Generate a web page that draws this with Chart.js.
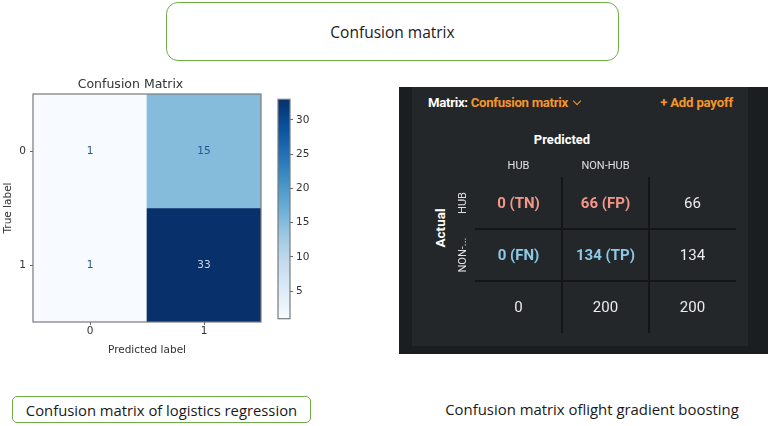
<!DOCTYPE html>
<html>
<head>
<meta charset="utf-8">
<script src="https://cdn.jsdelivr.net/npm/chart.js@4.4.1/dist/chart.umd.min.js"></script>
<style>
  html, body { margin: 0; padding: 0; background: #fff; }
  body { width: 770px; height: 426px; position: relative; overflow: hidden; font-family: "Open Sans", sans-serif; }
  .abs { position: absolute; }
  #topBox {
    left: 166px; top: 2px; width: 451px; height: 57px;
    border: 1.5px solid #70ad47; border-radius: 12px;
    display: flex; align-items: center; justify-content: center;
    font-size: 15.5px; color: #1a1a1a;
  }
  #capLeft {
    left: 12px; top: 396px; width: 297px; height: 25px;
    border: 1.5px solid #70ad47; border-radius: 5px;
    display: flex; align-items: center; justify-content: center;
    font-size: 14.8px; color: #1a1a1a;
  }
  #capRight { left: 400px; top: 399px; width: 384px; text-align: center; font-size: 14.9px; color: #1a1a1a; }
  #lrBox { left: 0; top: 77px; width: 265px; height: 285px; }
  #cbBox { left: 270px; top: 90px; width: 45px; height: 238px; }
  /* dark panel of the boosting model */
  #panel { left: 399px; top: 87px; width: 369px; height: 267px; background: #1b1e21; }
  #panelInner { left: 412px; top: 87px; width: 336px; height: 259px; background: #24272a; }
  #lgbBox { left: 450px; top: 150px; width: 290px; height: 187px; }
  .pt { font-family: Roboto, sans-serif; font-weight: 700; white-space: nowrap; }
  #mTitle { left: 428px; top: 95px; font-size: 13.2px; color: #fff; letter-spacing: -0.3px; }
  #mTitle span { color: #f5962a; }
  .chev { display: inline-block; width: 5px; height: 5px; border-right: 1.5px solid #f5962a; border-bottom: 1.5px solid #f5962a; transform: rotate(45deg); margin-left: 6px; position: relative; top: -3px; }
  #payoff { right: 37px; top: 95px; font-size: 13.2px; color: #f5962a; letter-spacing: -0.2px; }
  #predHead { left: 512px; top: 132px; width: 100px; text-align: center; font-size: 13px; color: #fff; }
  #actHead { left: 410px; top: 220px; width: 60px; text-align: center; font-size: 13.5px; color: #fff; transform: rotate(-90deg); }
</style>
</head>
<body>
<div id="topBox" class="abs">Confusion matrix</div>

<div id="lrBox" class="abs"><canvas id="lrMatrix"></canvas></div>
<div id="cbBox" class="abs"><canvas id="lrColorbar"></canvas></div>

<div id="panel" class="abs"></div>
<div id="panelInner" class="abs"></div>
<div id="mTitle" class="abs pt">Matrix: <span>Confusion matrix</span><i class="chev"></i></div>
<div id="payoff" class="abs pt">+ Add payoff</div>
<div id="predHead" class="abs pt">Predicted</div>
<div id="actHead" class="abs pt">Actual</div>
<div id="lgbBox" class="abs"><canvas id="lgbMatrix"></canvas></div>

<div id="capLeft" class="abs">Confusion matrix of logistics regression</div>
<div id="capRight" class="abs">Confusion matrix oflight gradient boosting</div>

<script>
// ---- 1. DATA --------------------------------
// logistic regression: rows = true label, cols = predicted label
const predLabels = ["0", "1"];
const trueLabels = ["0", "1"];
const lrCounts = [[1, 15], [1, 33]];
const cbRange = [1, 33];           // colour bar limits
const cbTicks = [5, 10, 15, 20, 25, 30];

// light gradient boosting: rows = actual, cols = predicted
const lgbCols = ["HUB", "NON-HUB", "Total"];
const lgbRows = ["HUB", "NON-...", "Total"];
const lgbCounts = [[0, 66], [0, 134]];
const lgbTags = [["TN", "FP"], ["FN", "TP"]];
const lgbRowTotals = [66, 134];
const lgbColTotals = [0, 200];
const lgbTotal = 200;

// ---- 2. HELPERS -----------------------------
// matplotlib "Blues" colormap stops
const blues = ["#f7fbff", "#deebf7", "#c6dbef", "#9ecae1", "#6baed6", "#4292c6", "#2171b5", "#08519c", "#08306b"];

function hexToRgb(h) {
  const n = parseInt(h.slice(1), 16);
  return [(n >> 16) & 255, (n >> 8) & 255, n & 255];
}

function bluesAt(t) {
  t = Math.min(1, Math.max(0, t));
  const p = t * (blues.length - 1);
  const i = Math.min(Math.floor(p), blues.length - 2);
  const f = p - i;
  const a = hexToRgb(blues[i]), b = hexToRgb(blues[i + 1]);
  const c = a.map((v, k) => Math.round(v + (b[k] - v) * f));
  return `rgb(${c[0]},${c[1]},${c[2]})`;
}

const norm = v => (v - cbRange[0]) / (cbRange[1] - cbRange[0]);
const mplFont = { family: "'DejaVu Sans', sans-serif", size: 10.5 };
const axisGrey = "#666";

// grey box round the plot area (matplotlib spines)
const frame = {
  id: "frame",
  afterDraw(chart) {
    const { ctx, chartArea: a } = chart;
    ctx.save();
    ctx.strokeStyle = "#7a7a7a";
    ctx.lineWidth = 1.2;
    ctx.strokeRect(a.left, a.top, a.right - a.left, a.bottom - a.top);
    ctx.restore();
  },
};

// count written in the middle of each heat-map cell
const lrCellText = {
  id: "lrCellText",
  afterDatasetsDraw(chart) {
    const { ctx } = chart;
    ctx.save();
    ctx.font = "10.5px 'DejaVu Sans', sans-serif";
    ctx.textAlign = "center";
    ctx.textBaseline = "middle";
    chart.data.datasets.forEach((ds, r) => {
      chart.getDatasetMeta(r).data.forEach((bar, c) => {
        const v = ds.counts[c];
        ctx.fillStyle = norm(v) > 0.5 ? "#c9d6ea" : "#2a5594";
        ctx.fillText(String(v), bar.x, (bar.y + bar.base) / 2);
      });
    });
    ctx.restore();
  },
};

// ---- 3. LOGISTIC REGRESSION HEAT MAP -------
new Chart(document.getElementById("lrMatrix"), {
  type: "bar",
  data: {
    labels: predLabels,
    datasets: trueLabels.map((t, r) => ({
      label: "True " + t,
      data: lrCounts[r].map(() => [r - 0.5, r + 0.5]),
      counts: lrCounts[r],
      backgroundColor: lrCounts[r].map(v => bluesAt(norm(v))),
      borderWidth: 0,
      barPercentage: 1,
      categoryPercentage: 1,
      grouped: false,
    })),
  },
  options: {
    responsive: true,
    maintainAspectRatio: false,
    animation: false,
    layout: { padding: { top: 0, right: 4, bottom: 0, left: 0 } },
    plugins: {
      legend: { display: false },
      tooltip: { enabled: false },
      title: {
        display: true,
        text: "Confusion Matrix",
        color: "#333",
        font: { family: "'DejaVu Sans', sans-serif", size: 12.5, weight: "normal" },
        padding: { top: 0, bottom: 2 },
      },
    },
    scales: {
      x: {
        offset: true,
        grid: { offset: false, drawOnChartArea: false, tickLength: 3, color: axisGrey },
        border: { display: false },
        ticks: { color: "#333", font: mplFont, padding: 0 },
        title: { display: true, text: "Predicted label", color: "#333", font: mplFont, padding: { top: 0, bottom: 5 } },
        afterFit: s => { s.height = 40; },
      },
      y: {
        min: -0.5,
        max: 1.5,
        reverse: true,
        afterBuildTicks: s => { s.ticks = trueLabels.map((_, i) => ({ value: i })); },
        grid: { drawOnChartArea: false, tickLength: 3, color: axisGrey },
        border: { display: false },
        ticks: { color: "#333", font: mplFont, padding: 4, callback: v => trueLabels[v] },
        title: { display: true, text: "True label", color: "#333", font: mplFont, padding: { top: 2, bottom: 0 } },
        afterFit: s => { s.width = 33; },
      },
    },
  },
  plugins: [lrCellText, frame],
});

// ---- 4. COLOUR BAR --------------------------
new Chart(document.getElementById("lrColorbar"), {
  type: "bar",
  data: {
    labels: ["count"],
    datasets: [{
      data: [cbRange],
      backgroundColor: c => {
        const a = c.chart.chartArea;
        if (!a) return blues[0];
        const g = c.chart.ctx.createLinearGradient(0, a.bottom, 0, a.top);
        blues.forEach((col, i) => g.addColorStop(i / (blues.length - 1), col));
        return g;
      },
      borderWidth: 0,
      barPercentage: 1,
      categoryPercentage: 1,
    }],
  },
  options: {
    responsive: true,
    maintainAspectRatio: false,
    animation: false,
    layout: { padding: { top: 5, right: 0, bottom: 5, left: 8 } },
    plugins: { legend: { display: false }, tooltip: { enabled: false } },
    scales: {
      x: { display: false },
      y: {
        position: "right",
        min: cbRange[0],
        max: cbRange[1],
        afterBuildTicks: s => { s.ticks = cbTicks.map(v => ({ value: v })); },
        grid: { drawOnChartArea: false, tickLength: 3, color: axisGrey },
        border: { display: false },
        ticks: { color: "#333", font: mplFont, padding: 3 },
        afterFit: s => { s.width = 25; },
      },
    },
  },
  plugins: [frame],
});

// ---- 5. LIGHT GRADIENT BOOSTING MATRIX -----
const salmon = "#f4978a", skyBlue = "#8ccbe8", white = "#ececec";
const lgbPoints = [];
lgbRows.forEach((row, r) => {
  lgbCols.forEach((col, c) => {
    let text, color = white, bold = false;
    if (r < 2 && c < 2) {
      text = `${lgbCounts[r][c]} (${lgbTags[r][c]})`;
      color = r === 0 ? salmon : skyBlue;
      bold = true;
    } else if (r < 2) {
      text = String(lgbRowTotals[r]);
    } else if (c < 2) {
      text = String(lgbColTotals[c]);
    } else {
      text = String(lgbTotal);
    }
    lgbPoints.push({ x: col, y: row, text, color, bold });
  });
});

const lgbCellText = {
  id: "lgbCellText",
  afterDatasetsDraw(chart) {
    const { ctx, chartArea } = chart;
    const pts = chart.data.datasets[0].data;
    ctx.save();
    ctx.textAlign = "center";
    ctx.textBaseline = "middle";
    chart.getDatasetMeta(0).data.forEach((el, i) => {
      const p = pts[i];
      ctx.font = `${p.bold ? "700" : "400"} 15px Roboto, sans-serif`;
      ctx.fillStyle = p.color;
      ctx.fillText(p.text, el.x, el.y + 1.5);
    });
    // rotated row labels
    const ys = chart.scales.y;
    ctx.font = "400 11px Roboto, sans-serif";
    ctx.fillStyle = "#e0e0e0";
    lgbRows.slice(0, 2).forEach((lab, i) => {
      ctx.save();
      ctx.translate(chartArea.left - 12, ys.getPixelForTick(i));
      ctx.rotate(-Math.PI / 2);
      ctx.fillText(lab, 0, 0);
      ctx.restore();
    });
    ctx.restore();
  },
};

const innerLines = n => c => (c.index > 0 && c.index < n ? "#131517" : "rgba(0,0,0,0)");

new Chart(document.getElementById("lgbMatrix"), {
  type: "scatter",
  data: {
    datasets: [{ data: lgbPoints, pointRadius: 0, pointHoverRadius: 0, showLine: false }],
  },
  options: {
    responsive: true,
    maintainAspectRatio: false,
    animation: false,
    layout: { padding: { top: 0, right: 4, bottom: 4, left: 0 } },
    plugins: { legend: { display: false }, tooltip: { enabled: false } },
    scales: {
      x: {
        type: "category",
        labels: lgbCols,
        position: "top",
        offset: true,
        grid: { offset: true, color: innerLines(lgbCols.length), lineWidth: 2, drawTicks: false },
        border: { display: false },
        ticks: {
          color: "#e0e0e0",
          font: { family: "Roboto, sans-serif", size: 11 },
          padding: 4,
          callback: (v, i) => (i < 2 ? lgbCols[i] : ""),
        },
        afterFit: s => { s.height = 27; },
      },
      y: {
        type: "category",
        labels: lgbRows,
        offset: true,
        grid: { offset: true, color: innerLines(lgbRows.length), lineWidth: 2, drawTicks: false },
        border: { display: false },
        ticks: { display: false },
        afterFit: s => { s.width = 25; },
      },
    },
  },
  plugins: [lgbCellText],
});
</script>
</body>
</html>
